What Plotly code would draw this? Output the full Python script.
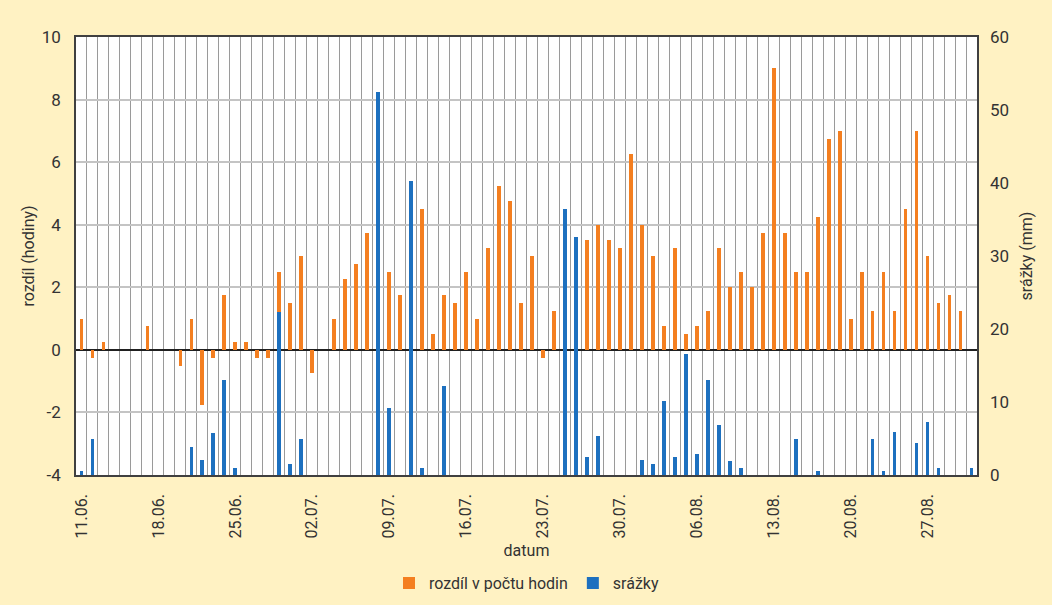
import pandas as pd
import plotly.graph_objects as go

# 82 days: 11.06. - 31.08.
dates = pd.date_range("2015-06-11", "2015-08-31", freq="D")

# rozdíl v počtu hodin (left axis), None = hidden/unknown
rozdil = [1.0, -0.25, 0.25, 0, 0, 0, 0.75, 0, 0, -0.5,
          1.0, -1.75, -0.25, 1.75, 0.25, 0.25, -0.25, -0.25, 2.5, 1.5,
          3.0, -0.75, 0, 1.0, 2.25, 2.75, 3.75, None, 2.5, 1.75,
          None, 4.5, 0.5, 1.75, 1.5, 2.5, 1.0, 3.25, 5.25, 4.75,
          1.5, 3.0, -0.25, 1.25, None, None, 3.5, 4.0, 3.5, 3.25,
          6.25, 4.0, 3.0, 0.75, 3.25, 0.5, 0.75, 1.25, 3.25, 2.0,
          2.5, 2.0, 3.75, 9.0, 3.75, 2.5, 2.5, 4.25, 6.75, 7.0,
          1.0, 2.5, 1.25, 2.5, 1.25, 4.5, 7.0, 3.0, 1.5, 1.75,
          1.25, None]

# srážky (mm, right axis)
srazky = [0.5, 4.9, 0, 0, 0, 0, 0, 0, 0, 0,
          3.8, 2.0, 5.8, 13.0, 1.0, 0, 0, 0, 22.3, 1.5,
          4.9, 0, 0, 0, 0, 0, 0, 52.4, 9.2, 0,
          40.3, 1.0, 0, 12.2, 0, 0, 0, 0, 0, 0,
          0, 0, 0, 0, 36.4, 32.6, 2.4, 5.3, 0, 0,
          0, 2.0, 1.5, 10.1, 2.4, 16.6, 2.9, 13.0, 6.8, 1.9,
          1.0, 0, 0, 0, 0, 4.9, 0, 0.5, 0, 0,
          0, 0, 4.9, 0.5, 5.9, 0, 4.4, 7.3, 1.0, 0,
          0, 1.0]

left_ticks = [-4, -2, 0, 2, 4, 6, 8, 10]
right_ticks = [0, 10, 20, 30, 40, 50, 60]

ORANGE = "#F47F20"
BLUE = "#1D70BF"
BG = "#FFF2C3"
FONT = "Roboto, Arial, sans-serif"
DAY = 86400000

srazky_plot = [v if v > 0 else None for v in srazky]

fig = go.Figure()
fig.add_trace(go.Bar(x=dates, y=rozdil, name="rozdíl v počtu hodin",
                     marker=dict(color=ORANGE, line=dict(width=0)),
                     width=0.34 * DAY, yaxis="y"))
fig.add_trace(go.Bar(x=dates, y=srazky_plot, name="srážky",
                     marker=dict(color=BLUE, line=dict(width=0)),
                     width=0.34 * DAY, yaxis="y2"))

tickdates = dates[::7]
fig.update_layout(
    width=1052, height=605,
    paper_bgcolor=BG, plot_bgcolor="white",
    margin=dict(l=76, r=75, t=37, b=130),
    barmode="overlay",
    font=dict(family=FONT, size=16, color="#333333"),
    xaxis=dict(
        type="date", automargin=False,
        range=[dates[0] - pd.Timedelta(hours=12), dates[-1] + pd.Timedelta(hours=12)],
        tickvals=tickdates,
        ticktext=[d.strftime("%d.%m.") for d in tickdates],
        tickangle=-90,
        showgrid=False,
        ticks="",
        ticklabelstandoff=11,
        showline=True, linecolor="#404040", linewidth=1.5, mirror=True,
        minor=dict(showgrid=True, gridcolor="#9a9a9a", gridwidth=1.2,
                   tick0=dates[0] - pd.Timedelta(hours=12), dtick=DAY),
        title=dict(text="datum", font=dict(size=16), standoff=7),
        tickfont=dict(size=16),
    ),
    yaxis=dict(
        range=[-4, 10], automargin=False,
        tickvals=left_ticks, ticktext=[str(v) for v in left_ticks],
        showgrid=True, gridcolor="#c4c4c4", gridwidth=2,
        zeroline=True, zerolinecolor="#202020", zerolinewidth=1.5,
        showline=True, linecolor="#404040", linewidth=1.5, mirror=True,
        ticks="", ticklabelstandoff=10,
        title=dict(text="rozdíl (hodiny)", font=dict(size=16), standoff=3),
        tickfont=dict(size=17),
    ),
    yaxis2=dict(
        range=[0, 60], overlaying="y", side="right", automargin=False,
        tickvals=right_ticks, ticktext=[str(v) for v in right_ticks],
        showgrid=False, zeroline=False, ticks="", ticklabelstandoff=12,
        title=dict(text="srážky (mm)", font=dict(size=16), standoff=12),
        tickfont=dict(size=17),
    ),
    legend=dict(orientation="h", x=0.5, xanchor="center",
                yref="container", y=0.036, yanchor="middle",
                font=dict(size=16), bgcolor="rgba(0,0,0,0)", itemwidth=30),
    bargap=0,
)

fig.write_html("out.html", config={"displayModeBar": False},
               post_script="document.body.style.margin='0';document.body.style.background='" + BG + "';")
